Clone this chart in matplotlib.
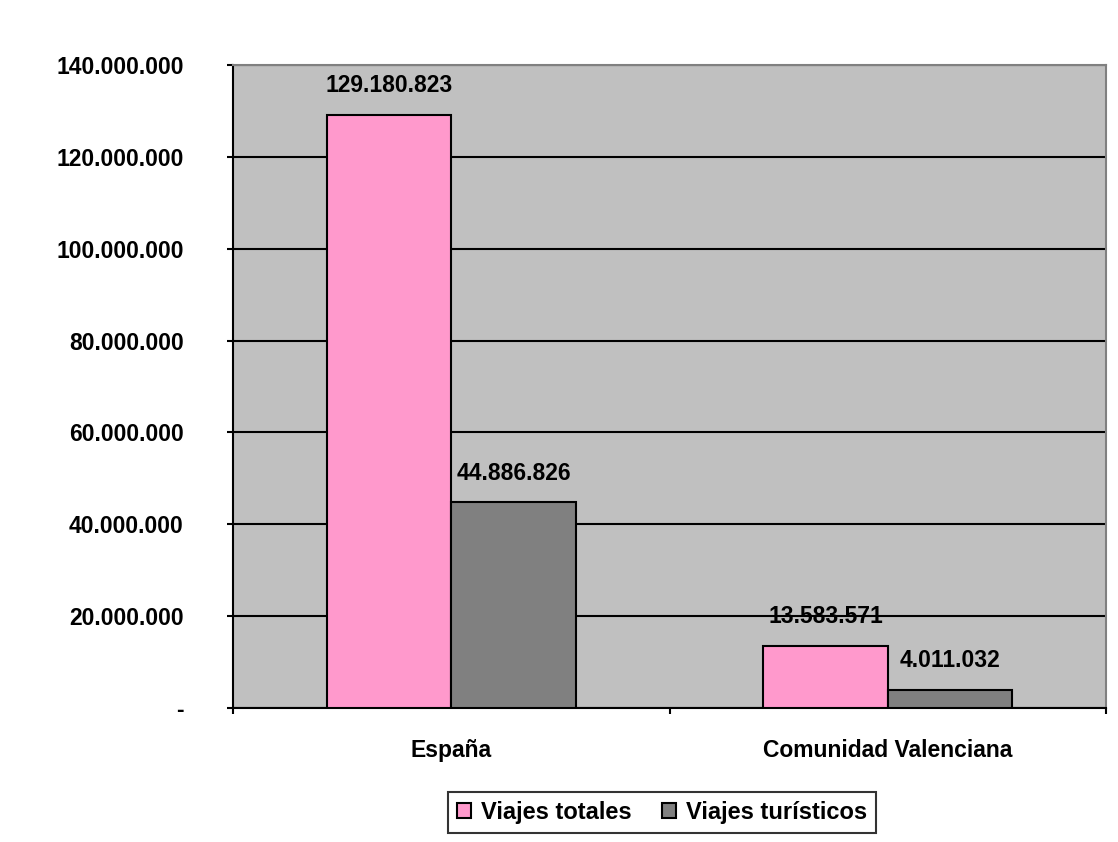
import matplotlib
matplotlib.use("Agg")
import matplotlib.pyplot as plt
from matplotlib.ticker import FuncFormatter, FixedLocator
import numpy as np

# Datos
categorias = ["España", "Comunidad Valenciana"]
viajes_totales = [129180823, 13583571]
viajes_turisticos = [44886826, 4011032]
series = ["Viajes totales", "Viajes turísticos"]
colores = ["#ff99cc", "#808080"]

plt.rcParams["font.family"] = ["Liberation Sans", "DejaVu Sans"]
plt.rcParams["font.weight"] = "bold"
FS = 16.5


def miles(v):
    # separador de miles con punto, el cero como guion
    if v == 0:
        return "-"
    return f"{int(v):,}".replace(",", ".")


fig = plt.figure(figsize=(11.18, 8.42), dpi=100)
ax = fig.add_axes([0.2084, 0.1591, 0.7809, 0.7637])
ax.set_facecolor("#c0c0c0")

x = np.arange(len(categorias))
ancho = 1 / 3.5

for i, (vals, col, nombre) in enumerate(zip([viajes_totales, viajes_turisticos], colores, series)):
    pos = x + (i - 0.5) * ancho
    ax.bar(pos, vals, width=ancho, color=col, edgecolor="black", linewidth=1.5,
           label=nombre, zorder=3)
    for px, v in zip(pos, vals):
        ax.annotate(miles(v), (px, v), xytext=(0, 12.5), textcoords="offset points",
                    ha="center", va="bottom", fontsize=FS, fontweight="bold", zorder=4)

ax.set_xlim(-0.5, 1.5)
ax.set_ylim(0, 140000000)
ax.yaxis.set_major_locator(FixedLocator(np.arange(0, 140000001, 20000000)))
ax.yaxis.set_major_formatter(FuncFormatter(lambda v, p: miles(v)))
ax.grid(axis="y", color="black", linewidth=1.5, zorder=1)

ax.set_xticks(x)
ax.set_xticklabels(categorias, fontsize=FS, fontweight="bold")
ax.set_xticks([-0.5, 0.5, 1.5], minor=True)
ax.tick_params(axis="x", which="major", length=0, pad=22)
ax.tick_params(axis="x", which="minor", length=4.5, width=1.5, direction="out")
ax.tick_params(axis="y", length=4.5, width=1.5, direction="out", pad=31, labelsize=FS)

for s in ["left", "bottom"]:
    ax.spines[s].set_color("black")
    ax.spines[s].set_linewidth(1.5)
for s in ["top", "right"]:
    ax.spines[s].set_color("#808080")
    ax.spines[s].set_linewidth(1.5)

leg = fig.legend(loc="center", bbox_to_anchor=(0.592, 0.035), ncol=2, fontsize=17,
                 frameon=True, fancybox=False, edgecolor="black", handlelength=0.6,
                 handleheight=0.6, handletextpad=0.4, columnspacing=1.3,
                 borderpad=0.4, borderaxespad=0)
leg.get_frame().set_linewidth(1.5)
for t in leg.get_texts():
    t.set_fontweight("bold")

fig.savefig("out.png", dpi=100)
